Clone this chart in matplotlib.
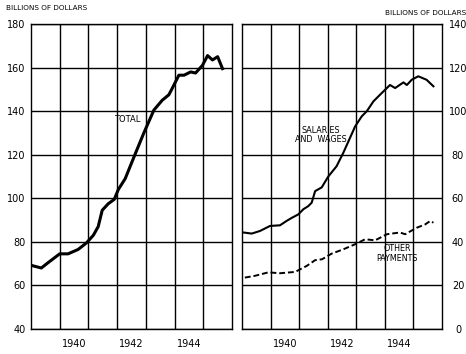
import matplotlib
matplotlib.use("Agg")
import matplotlib.pyplot as plt

# ---- data ----
total_years = [1939.07, 1939.36, 1939.6, 1940.0, 1940.29, 1940.64, 1940.93, 1941.17,
               1941.34, 1941.48, 1941.69, 1941.9, 1942.04, 1942.28, 1942.64, 1942.93,
               1943.28, 1943.57, 1943.8, 1943.92, 1944.15, 1944.33, 1944.56, 1944.73,
               1944.97, 1945.15, 1945.32, 1945.5, 1945.67]
total_values = [69, 68, 70.5, 74.5, 74.5, 76.5, 79.5, 83,
                87, 94.5, 97.5, 99.5, 104, 109, 120.7, 130,
                140.5, 145, 147.5, 150.5, 156.5, 156.5, 158, 157.5,
                161, 165.5, 163.5, 165, 159.5]

salary_years = [1939.05, 1939.34, 1939.63, 1939.98, 1940.33, 1940.56, 1940.74, 1940.97,
                1941.15, 1941.32, 1941.44, 1941.56, 1941.79, 1942.02, 1942.31, 1942.55,
                1942.96, 1943.19, 1943.37, 1943.6, 1943.89, 1944.18, 1944.36, 1944.65,
                1944.77, 1944.94, 1945.17, 1945.46, 1945.7]
salary_values = [44.3, 43.8, 45, 47.3, 47.6, 49.6, 51, 52.6,
                 55, 56.4, 58, 63.3, 65, 70, 74.7, 81,
                 93, 97.6, 100, 104.5, 108.3, 112, 110.6, 113.2,
                 112, 114.4, 116, 114.4, 111.4]

other_years = [1939.1, 1939.45, 1939.92, 1940.33, 1940.86, 1941.27, 1941.56, 1941.8,
               1942.14, 1942.55, 1942.96, 1943.31, 1943.66, 1944.07, 1944.53, 1944.71,
               1945.12, 1945.41, 1945.59, 1945.7]
other_values = [23.6, 24.4, 26, 25.6, 26.2, 29, 31.6, 32,
                34.6, 36.6, 38.9, 41.2, 40.7, 43.5, 44.3, 43.5,
                46.5, 48, 49.6, 48.8]

left_ticks = [40, 60, 80, 100, 120, 140, 160, 180]
right_ticks = [0, 20, 40, 60, 80, 100, 120, 140]
year_labels = ["1940", "1942", "1944"]
year_label_pos = [1940.5, 1942.5, 1944.5]
year_grid = [1940, 1941, 1942, 1943, 1944, 1945]

fig = plt.figure(figsize=(4.66, 3.54), dpi=100)
fig.patch.set_facecolor("white")

axL = fig.add_axes([31/466, 1-329/354, 201/466, 305/354])
axR = fig.add_axes([242/466, 1-329/354, 200/466, 305/354])

for ax in (axL, axR):
    ax.set_xlim(1939, 1946)
    ax.set_xticks(year_grid, minor=True)
    ax.grid(True, which="minor", axis="x", color="black", linewidth=1.0)
    ax.grid(True, which="major", axis="y", color="black", linewidth=1.0)
    ax.set_xticks(year_label_pos)
    ax.set_xticklabels(year_labels, fontsize=7)
    ax.tick_params(axis="x", which="both", length=0, pad=7)
    ax.tick_params(axis="y", length=0)
    for s in ax.spines.values():
        s.set_linewidth(1.0)
        s.set_color("black")

axL.set_ylim(40, 180)
axL.set_yticks(left_ticks)
axL.set_yticklabels([str(v) for v in left_ticks], fontsize=7)
axL.tick_params(axis="y", pad=4)
axL.plot(total_years, total_values, color="black", linewidth=2.2)
axL.text(1942.35, 136, "TOTAL", fontsize=6, ha="center", va="center")

axR.set_ylim(0, 140)
axR.set_yticks(right_ticks)
axR.yaxis.tick_right()
axR.set_yticklabels([str(v) for v in right_ticks], fontsize=7)
axR.tick_params(axis="y", pad=11.5)
for lab in axR.get_yticklabels():
    lab.set_horizontalalignment("center")
axR.plot(salary_years, salary_values, color="black", linewidth=1.5)
axR.plot(other_years, other_values, color="black", linewidth=1.4,
         linestyle=(0, (3, 1.5)))
axR.text(1941.75, 89, "SALARIES\nAND  WAGES", fontsize=5.8, ha="center", va="center",
         linespacing=1.1)
axR.text(1944.42, 34.8, "OTHER\nPAYMENTS", fontsize=5.8, ha="center", va="center",
         linespacing=1.1)

fig.text(6/466, 1-8/354, "BILLIONS OF DOLLARS", fontsize=5.2, ha="left", va="center")
fig.text(466/466, 1-13/354, "BILLIONS OF DOLLARS", fontsize=5.2, ha="right", va="center")

fig.savefig("out.png", dpi=100, facecolor="white")
